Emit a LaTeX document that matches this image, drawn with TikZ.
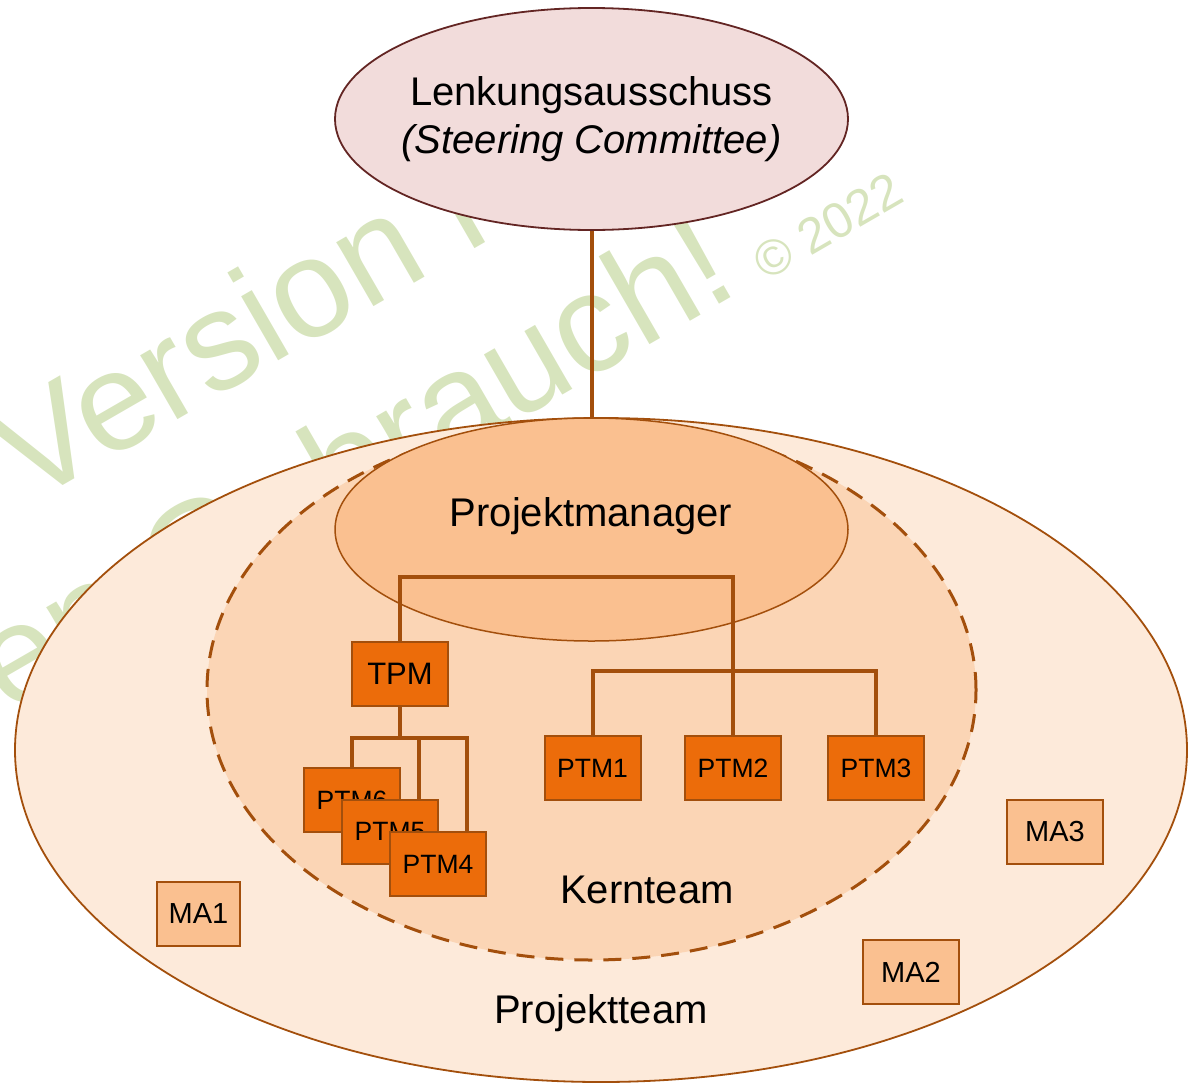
\documentclass[tikz,border=0pt]{standalone}
\usepackage{fontspec}
\setmainfont{Liberation Sans}
\usetikzlibrary{shapes.geometric,calc}

\definecolor{brn}{RGB}{163,79,12}
\definecolor{scborder}{RGB}{99,37,35}
\definecolor{scfill}{RGB}{242,220,219}
\definecolor{teamfill}{RGB}{253,234,218}
\definecolor{corefill}{RGB}{251,213,181}
\definecolor{pmfill}{RGB}{250,192,144}
\definecolor{ptmfill}{RGB}{236,108,10}
\definecolor{wmark}{RGB}{215,228,189}

\newcommand\fsz[1]{\fontsize{#1}{#1}\selectfont}

\tikzset{
  wm/.style={text=wmark, inner sep=0pt, font=\fsz{140}, rotate=30},
  lbl/.style={inner sep=0pt, font=\fsz{40}},
  ptmbox/.style={draw=brn, line width=2pt, fill=ptmfill, inner sep=0pt,
    minimum width=96pt, minimum height=64pt, font=\fsz{26.5}},
  mabox/.style={draw=brn, line width=2pt, fill=pmfill, inner sep=0pt,
    minimum width=96pt, minimum height=64pt, font=\fsz{29}},
  treeline/.style={draw=brn, line width=4pt},
  conn/.style={draw=brn, line width=4pt}
}

\begin{document}
\begin{tikzpicture}[x=1pt,y=1pt]
\useasboundingbox (0,0) rectangle (1193,-1084);

% watermark lettering behind everything
\node[wm, anchor=base west] (wmone) at (28,-506) {Version nur};
\node[wm, anchor=base east] (wmtwo) at (743,-291) {en Gebrauch!};
\node[wm, anchor=base west, font=\fsz{50}] (wmthree) at (766,-282) {© 2022};

% project team, core team and project manager
\node[ellipse, draw=brn, line width=1.8pt, fill=teamfill, inner sep=0pt,
      minimum width=1172pt, minimum height=664pt] (team) at (601,-750) {};
\node[ellipse, draw=brn, dash pattern=on 18pt off 11pt, line width=3pt, fill=corefill,
      inner sep=0pt, minimum width=769pt, minimum height=540pt] (core) at (591.5,-690) {};
\node[ellipse, draw=brn, line width=1.5pt, fill=pmfill, inner sep=0pt,
      minimum width=513pt, minimum height=223pt] (pm) at (591.5,-529.5) {};

\node[lbl, anchor=base] (pmlabel) at (591,-526) {Projektmanager};
\node[lbl, anchor=base] (corelabel) at (647,-903) {Kernteam};
\node[lbl, anchor=base] (teamlabel) at (601,-1023) {Projektteam};

% team members
\node[ptmbox, font=\fsz{31}] (tpm) at (400,-673.5) {TPM};
\node[ptmbox] (ptm1) at (592.5,-768) {PTM1};
\node[ptmbox] (ptm2) at (733,-768) {PTM2};
\node[ptmbox] (ptm3) at (876,-768) {PTM3};
\node[ptmbox] (ptm6) at (352,-800) {PTM6};
\node[ptmbox] (ptm5) at (390,-832) {PTM5};
\node[ptmbox] (ptm4) at (438,-864) {PTM4};

\node[mabox, minimum width=83pt] (ma1) at (198.5,-914) {MA1};
\node[mabox] (ma2) at (911,-972) {MA2};
\node[mabox] (ma3) at (1055,-832) {MA3};

% reporting lines
\draw[treeline] (tpm.north) -- ++(0,64) -| (ptm2.north);
\draw[treeline] (ptm1.north) -- ++(0,64) -| (ptm3.north);
\coordinate (tb) at ($(tpm.south)+(0,-31)$);
\coordinate (c5) at ($(ptm5.north)!0.6!(ptm5.north east)$);
\coordinate (c4) at ($(ptm4.north)!0.6!(ptm4.north east)$);
\draw[treeline] (tpm.south) -- (tb);
\draw[treeline] (ptm6.north) |- (c4 |- tb) -- (c4);
\draw[treeline] (c5) -- (c5 |- tb);

% steering committee
\node[ellipse, draw=scborder, line width=1.8pt, fill=scfill, inner sep=0pt,
      minimum width=513pt, minimum height=222pt] (sc) at (591.5,-119) {};
\node[inner sep=0pt, align=center, font=\fontsize{40}{48}\selectfont] (sclabel)
      at (sc.center) {Lenkungsausschuss\\\textit{(Steering Committee)}};
\draw[conn] (sc.south) -- (sc.south |- team.north);
\end{tikzpicture}
\end{document}
